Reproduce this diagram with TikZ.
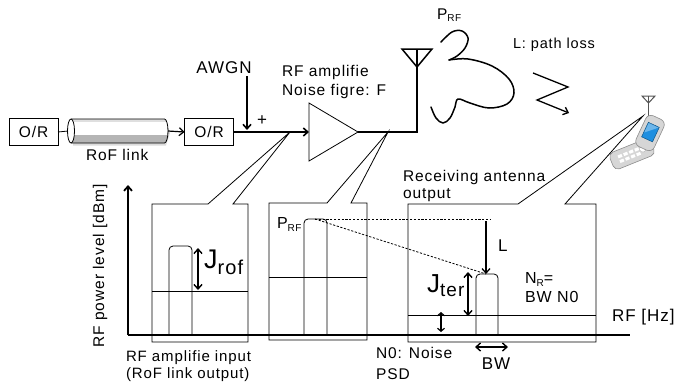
\documentclass[tikz,border=0pt]{standalone}
\usepackage{fontspec}
\setmainfont{Liberation Sans}[LetterSpace=6]
\usetikzlibrary{arrows.meta}
\newcommand\fsz[1]{\fontsize{#1}{#1}\selectfont}
\definecolor{phonegray}{HTML}{D6D6D6}
\definecolor{phoneedge}{HTML}{8C8C8C}
\definecolor{screenblue}{HTML}{1F8FE0}

\begin{document}
\begin{tikzpicture}[x=1pt,y=-1pt,
  >={Straight Barb[length=4.5pt,width=8pt]},
  every node/.style={inner sep=0pt,outer sep=0pt},
  txt/.style={font=\fsz{15.5},anchor=base west},
  ctxt/.style={font=\fsz{15.5},anchor=base},
  orbox/.style={draw,line width=0.8pt,minimum width=49pt,minimum height=27pt,font=\fsz{15.5}},
  fiberbox/.style={minimum width=100pt,minimum height=24pt},
  sig/.style={line width=1.6pt},
  thinline/.style={line width=0.8pt},
  callout/.style={line width=0.8pt,line join=miter},
  axisline/.style={line width=1.8pt},
  dbl/.style={line width=1.4pt,<->},
  dashline/.style={line width=0.8pt,dash pattern=on 2.2pt off 1.6pt},
  lobe/.style={line width=1.5pt,line cap=round,line join=round}
]
\useasboundingbox (0,0) rectangle (679,386);

% ---------- RoF link ----------
\node[orbox] (orL) at (33.5,132) {O/R};
\node[orbox] (orR) at (209,132) {O/R};
\node[fiberbox] (fiber) at (118,131) {};
\fill[black!14] (73,121) -- (166,121) -- (170,133) -- (166,145.5) -- (73,145.5) -- cycle;
\begin{scope}
  \clip (71,119) -- (164.5,119) arc[start angle=-90,end angle=90,x radius=3.5,y radius=12] -- (71,143) -- cycle;
  \fill[white] (60,110) rectangle (175,150);
  \fill[gray!58] (60,135) rectangle (175,150);
  \fill[gray!25] (60,119) rectangle (175,121.5);
\end{scope}
\draw[thinline] (71,119) -- (164.5,119) arc[start angle=-90,end angle=90,x radius=3.5,y radius=12] -- (71,143);
\draw[thinline,fill=white] (71,131) ellipse[x radius=3.5,y radius=12];
\node[txt] (roflabel) at (86,160) {RoF link};

\draw[thinline] (orL.east) -- (fiber.west);
\draw[line width=1.2pt,->] (fiber.east) -- (orR.west);

% ---------- amplifier and transmit antenna ----------
\coordinate (ampin) at (309,132);
\coordinate (ampout) at (358,132);
\draw[thinline,line join=miter] (309,103) -- (ampout) -- (309,161) -- cycle;
\coordinate (jL) at (290,132);
\coordinate (jM) at (388,132);
\coordinate (antfoot) at (417,132);
\coordinate (anttop) at (417,49);
\draw[sig,->] (orR.east) -- (ampin);
\draw[sig,line join=miter] (ampout) -- (antfoot) -- (anttop);
\draw[line width=1.5pt,line join=miter] (402,49) -- (432,49) -- (417,67) -- cycle;

\node[font=\fsz{17},anchor=base] (awgn) at (224,73) {AWGN};
\coordinate (sum) at (247,130);
\draw[sig,->,shorten <=3pt] (awgn.south -| sum) -- (sum);
\node[font=\fsz{17}] (plus) at (262,121) {+};

\node[txt] (amplbl) at (282,76) {RF amplifie};
\node[txt] (nflbl) at (282,95) {Noise figre: F};

% radiated power pattern
\node[txt] (ptx) at (437,19) {P{\fsz{10}\raisebox{-2.5pt}{RF}}};
\draw[lobe] plot[smooth,tension=0.6] coordinates {(441,42) (452,32) (462,31) (468,38) (465,48) (457,56) (449,60)};
\draw[lobe] plot[smooth,tension=0.6] coordinates {(449,60) (468,59) (492,66) (509,79) (514,93) (507,104) (489,108) (470,103) (458,99) (455,107) (450,118) (443,123) (436,118) (431,107)};

% path loss
\draw[line width=1.3pt,->,line join=miter] (533,73) -- (568,87) -- (537,100) -- (569,113);
\node[font=\fsz{14.5},anchor=base west] (pl) at (513,48) {L: path loss};

% ---------- mobile phone ----------
\coordinate (phant) at (643,116);
\draw[line width=1pt,phoneedge!60!black] (648.5,96) -- (648.5,118);
\draw[line width=1pt,phoneedge!60!black,line join=miter] (642,96) -- (655,96) -- (648.5,103) -- cycle;
\begin{scope}[shift={(632,154)},rotate=22]
  \fill[phonegray,draw=phoneedge,line width=0.6pt,rounded corners=5pt] (-22,-9) rectangle (22,9);
  \foreach \i in {-14,-8,-2,4} \foreach \j in {-4,1}
    \fill[white] (\i,\j) rectangle ++(4.2,3);
  \fill[white,draw=phoneedge!70,line width=0.4pt] (12,-1) circle (3.5);
\end{scope}
\begin{scope}[shift={(650,133)},rotate=-25]
  \fill[phonegray,draw=phoneedge,line width=0.6pt,rounded corners=6pt] (-10,-17) rectangle (10,17);
  \fill[screenblue,draw=screenblue!60!black,line width=0.5pt] (-6,-9) rectangle (6,7);
  \fill[white,opacity=0.35] (-5.5,-8.5) -- (5.5,-8.5) -- (-5.5,2) -- cycle;
\end{scope}

% ---------- spectra ----------
\draw[axisline,->] (128,335) -- (128,185);
\draw[axisline] (128,335) -- (630,335);
\node[font=\fsz{15.5},rotate=90,anchor=base] (ylbl) at (104,266) {RF power level [dBm]};
\node[font=\fsz{17},anchor=base west] (xlbl) at (612,321) {RF [Hz]};

% callout boxes
\draw[callout] (233,204) -- (248,204) -- (248,342) -- (152,342) -- (152,204) -- (208,204) -- (jL) -- cycle;
\draw[callout] (351,203) -- (367,203) -- (367,340) -- (269,340) -- (269,203) -- (327,203) -- (jM) -- cycle;
\draw[callout] (565,204) -- (596,204) -- (596,342) -- (408,342) -- (408,204) -- (518,204) -- (phant) -- cycle;

% noise floors
\draw[thinline] (152,291) -- (248,291);
\draw[thinline] (269,277) -- (367,277);
\draw[thinline] (408,315) -- (596,315);

% signal bands
\draw[thinline,rounded corners=4pt] (169,335) -- (169,246) -- (192,246) -- (192,335);
\draw[thinline,rounded corners=4pt] (304,335) -- (304,219) -- (327,219) -- (327,335);
\draw[thinline,rounded corners=4pt] (476,335) -- (476,274) -- (498,274) -- (498,335);
\coordinate (mtop) at (315,219);
\coordinate (rtop) at (486,274);
\coordinate (ref) at (490,219);

% left box: RF amplifier input
\draw[dbl] (198,248) -- (198,290);
\node[anchor=base west] (jrof) at (204,268) {\fsz{27}J\fsz{20}\raisebox{-6pt}{rof}};
\node[txt,font=\fsz{15}] (in1) at (126,361) {RF amplifie input};
\node[txt,font=\fsz{15}] (in2) at (126,378) {(RoF link output)};

% middle box: transmit power
\node[txt,font=\fsz{16}] (pmid) at (277,228) {P{\fsz{10}\raisebox{-3pt}{RF}}};
\draw[dashline] (mtop) -- (ref);
\draw[dashline] (mtop) -- (rtop);

% right box: receiving antenna output
\node[txt] (rx1) at (403,181) {Receiving antenna};
\node[txt] (rx2) at (403,198) {output};
\draw[line width=1.3pt,->] (ref -| rtop) ++(0,2) -- (rtop);
\node[font=\fsz{17},anchor=base west] (llbl) at (498,251) {L};
\draw[dbl] (468,272) -- (468,316);
\node[anchor=base west] (jter) at (427,292) {\fsz{26}J\fsz{19}\raisebox{-4pt}{ter}};
\draw[dbl,line width=1.2pt,{Straight Barb[length=3pt,width=7pt]}-{Straight Barb[length=3pt,width=7pt]}] (441,312) -- (441,332);
\node[txt,font=\fsz{16}] (nr1) at (525,283) {N{\fsz{10}\raisebox{-3pt}{R}}=};
\node[txt,font=\fsz{16}] (nr2) at (525,302) {BW N0};
\draw[dbl] (475,347) -- (508,347);
\node[font=\fsz{17},anchor=base] (bwlbl) at (496,369) {BW};
\node[txt] (n01) at (376,358) {N0: Noise};
\node[txt] (n02) at (376,379) {PSD};
\end{tikzpicture}
\end{document}
